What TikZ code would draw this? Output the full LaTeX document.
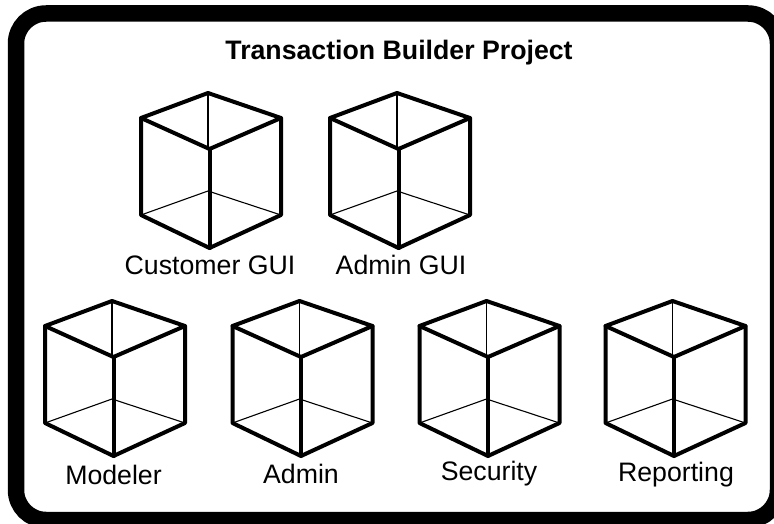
\documentclass[tikz,border=0pt]{standalone}
\usepackage{fontspec}
\setmainfont{Liberation Sans}
\tikzset{
  thickedge/.style={line width=4pt,line cap=round,line join=round},
  thinedge/.style={line width=1.1pt},
  cubelabel/.style={font=\fontsize{26.7}{32}\selectfont,inner sep=0pt},
  cube/.pic={
    \draw[thinedge] (-3,0) -- (-3,56);
    \draw[thinedge] (-70,122) -- (-3,98) -- (70,122);
    \draw[thickedge] (-70,25) -- (-3,0) -- (70,25) -- (-1.5,56) -- cycle;
    \draw[thickedge] (-70,25) -- (-70,122) -- (-1.5,155) -- (70,122) -- (70,25);
    \draw[thickedge] (-1.5,56) -- (-1.5,155);
  }
}
\begin{document}
\begin{tikzpicture}[x=1pt,y=-1pt]
\useasboundingbox (0,0) rectangle (774,524);
\draw[line width=16.5pt,rounded corners=30pt] (16,13.5) rectangle (778,520);
\node[font=\bfseries\fontsize{26.7}{32}\selectfont,inner sep=0pt] (title) at (399,53) {Transaction Builder Project};

\pic at (211,93) {cube};
\pic at (400,93) {cube};
\pic at (115,301) {cube};
\pic at (302.5,301) {cube};
\pic at (489.5,301) {cube};
\pic at (675.5,301) {cube};

\node[cubelabel] (customergui) at (210,265) {Customer GUI};
\node[cubelabel] (admingui) at (401,265) {Admin GUI};
\node[cubelabel] (modeler) at (113.5,475) {Modeler};
\node[cubelabel] (admin) at (301,474) {Admin};
\node[cubelabel] (security) at (489,474) {Security};
\node[cubelabel] (reporting) at (676,475) {Reporting};
\end{tikzpicture}
\end{document}
